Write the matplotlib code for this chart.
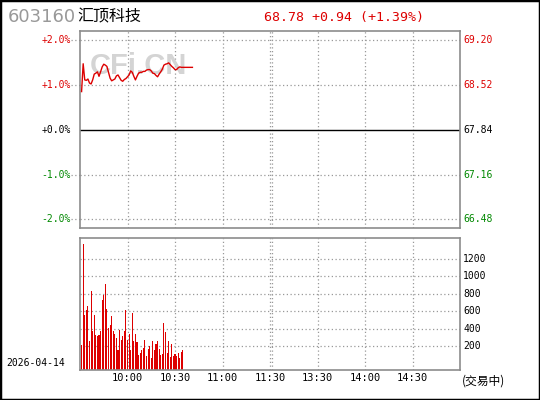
import matplotlib
matplotlib.use("Agg")
import matplotlib.pyplot as plt
import matplotlib.transforms as mtransforms
from matplotlib.patches import Rectangle

plt.rcParams['font.family'] = ['DejaVu Sans Mono', 'Noto Sans CJK SC']

# --- data ---
code = "603160"
name = "汇顶科技"
prev_close = 67.84
last_price = 68.78
change = 0.94
change_pct = 1.39
trade_date = "2026-04-14"

# percent change per minute since 9:30
price_minutes = list(range(1, 66)) + [71]
price_pct = [0.85, 1.47, 1.11, 1.10, 1.13, 1.04, 1.02, 1.11, 1.24, 1.26,
             1.29, 1.19, 1.29, 1.40, 1.46, 1.44, 1.41, 1.28, 1.15, 1.09,
             1.11, 1.13, 1.20, 1.22, 1.16, 1.10, 1.08, 1.12, 1.14, 1.18,
             1.22, 1.31, 1.28, 1.19, 1.11, 1.19, 1.26, 1.28, 1.28, 1.30,
             1.30, 1.33, 1.34, 1.34, 1.31, 1.26, 1.25, 1.21, 1.18, 1.24,
             1.29, 1.35, 1.44, 1.46, 1.47, 1.49, 1.45, 1.41, 1.38, 1.34,
             1.34, 1.38, 1.40, 1.39, 1.39, 1.39]

# volume per minute (lots)
volume = [215, 1367, 557, 614, 660, 261, 831, 375, 557, 329,
          318, 329, 375, 728, 786, 911, 626, 409, 443, 546,
          375, 341, 295, 158, 386, 272, 318, 375, 614, 272,
          341, 158, 580, 261, 341, 249, 101, 124, 158, 181,
          272, 90, 170, 204, 67, 261, 158, 227, 261, 170,
          101, 113, 466, 363, 124, 261, 78, 227, 90, 113,
          90, 124, 67, 135, 158]
volume_minutes = list(range(1, len(volume) + 1))

pct_ticks = [2.0, 1.0, 0.0, -1.0, -2.0]
vol_ticks = [200, 400, 600, 800, 1000, 1200]
time_ticks = [30, 60, 90, 120, 150, 180, 210]
time_labels = ["10:00", "10:30", "11:00", "11:30", "13:30", "14:00", "14:30"]

RED = "#dd0000"
GREEN = "#008800"
GRID = "#999999"
FRAME = "#8c8c8c"
VOL_FLOOR = -65

fig = plt.figure(figsize=(5.4, 4.0), dpi=100)
fig.patch.set_facecolor("white")

ax = fig.add_axes([80 / 540, 1 - 228 / 400, 380 / 540, 197 / 400])
axv = fig.add_axes([80 / 540, 1 - 369.5 / 400, 380 / 540, 131.5 / 400])

for a in (ax, axv):
    a.set_xlim(0, 240)
    a.set_xticks([])
    a.set_yticks([])
    for s in a.spines.values():
        s.set_color(FRAME)
        s.set_linewidth(1.2)
    for t in time_ticks:
        a.axvline(t, color=GRID, linestyle=(0, (1, 2)), linewidth=0.9, zorder=0)
    a.axvline(121, color=GRID, linestyle=(0, (1, 2)), linewidth=0.9, zorder=0)

# --- price panel ---
ax.set_ylim(-2.19, 2.2)
tr_left = mtransforms.blended_transform_factory(ax.transAxes, ax.transData)
for p in pct_ticks:
    if p == 0:
        ax.axhline(0, color="black", linewidth=1.0, zorder=1)
        col = "black"
    else:
        ax.axhline(p, color=GRID, linestyle=(0, (1, 2)), linewidth=0.9, zorder=0)
        ax.plot([-0.025, 0], [p, p], transform=tr_left, color=GRID,
                linestyle=(0, (1, 2)), linewidth=0.9, clip_on=False)
        col = RED if p > 0 else GREEN
    ax.text(-0.025, p, f"{p:+.1f}%", transform=tr_left, ha="right", va="center",
            fontsize=7, color=col)
    price = prev_close * (1 + p / 100)
    ax.text(1.008, p, f"{price:.2f}", transform=tr_left, ha="left", va="center",
            fontsize=7, color=col)

ax.text(36.6, 1.43, "CFi.CN", fontsize=21, fontweight="bold", family="Liberation Sans",
        color="#d4d4d4", ha="center", va="center", zorder=1)
ax.plot(price_minutes, price_pct, color=RED, linewidth=1.0, zorder=3)

# --- volume panel ---
axv.set_ylim(VOL_FLOOR, 1436)
tr_vol = mtransforms.blended_transform_factory(axv.transAxes, axv.transData)
for v in vol_ticks:
    axv.axhline(v, color=GRID, linestyle=(0, (1, 2)), linewidth=0.9, zorder=0)
    axv.text(1.008, v, str(v), transform=tr_vol, ha="left", va="center",
             fontsize=7, color="black")
axv.bar(volume_minutes, [v - VOL_FLOOR for v in volume], bottom=VOL_FLOOR,
        width=0.7, color=RED, zorder=2)

tr_time = mtransforms.blended_transform_factory(axv.transData, axv.transAxes)
for t, lab in zip(time_ticks, time_labels):
    axv.text(t, -0.065, lab, transform=tr_time, ha="center", va="center", fontsize=7.5)

# --- header and footer text ---
fig.text(8 / 540, 1 - 17 / 400, code, fontsize=13, color="#999999",
         family="DejaVu Sans", va="center", ha="left")
fig.text(77 / 540, 1 - 17 / 400, name, fontsize=11.5, color="black",
         family="Noto Sans CJK SC", va="center", ha="left")
fig.text(264 / 540, 1 - 17 / 400,
         f"{last_price:.2f} {change:+.2f} ({change_pct:+.2f}%)",
         fontsize=9.5, color=RED, va="center", ha="left")
fig.text(6 / 540, 1 - 363 / 400, trade_date, fontsize=7, va="center", ha="left")
fig.text(462 / 540, 1 - 381 / 400, "(交易中)", fontsize=8.5, va="center", ha="left",
         family=["Noto Sans CJK SC", "DejaVu Sans"])

fig.patches.append(Rectangle((0, 0), 1, 1, transform=fig.transFigure, fill=False,
                             edgecolor="black", linewidth=2.5))

fig.savefig("out.png", dpi=100)
